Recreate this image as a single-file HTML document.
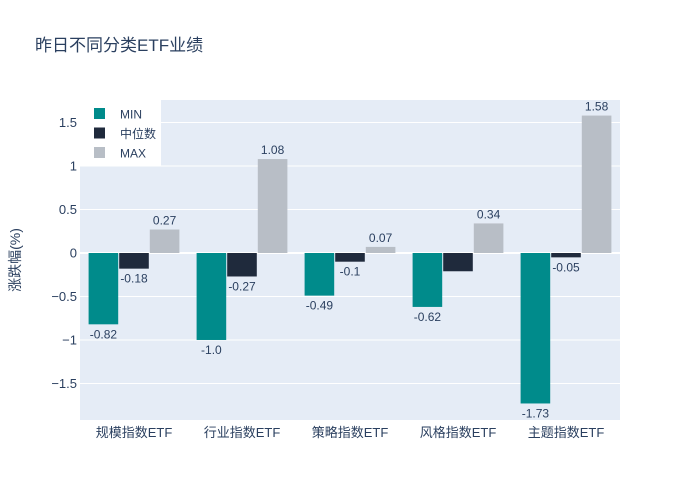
<!DOCTYPE html>
<html><head><meta charset="utf-8">
<style>
body{margin:0;background:#fff;}
svg{display:block;font-family:"Liberation Sans","Noto Sans CJK SC",sans-serif;}
</style></head>
<body>
<svg id="chart" width="700" height="500">
<rect x="0" y="0" width="700" height="500" fill="#fff"/>
<text x="35" y="51" font-size="17" fill="#2a3f5f">昨日不同分类ETF业绩</text>
<rect x="80" y="100" width="540" height="320" fill="#e5ecf6"/>
<g id="grid"></g>
<g id="bars"></g>
<g id="labels"></g>
<g id="yticks"></g>
<g id="xticks"></g>
<text transform="translate(20,260) rotate(-90)" text-anchor="middle" font-size="14" fill="#2a3f5f">涨跌幅(%)</text>
<g id="legend">
<rect x="80" y="100" width="81" height="66" fill="#fff"/>
</g>
</svg>
<script>
const categories=["规模指数ETF","行业指数ETF","策略指数ETF","风格指数ETF","主题指数ETF"];
const seriesNames=["MIN","中位数","MAX"];
const minVals=[-0.82,-1.0,-0.49,-0.62,-1.73];
const medVals=[-0.18,-0.27,-0.1,-0.21,-0.05];
const maxVals=[0.27,1.08,0.07,0.34,1.58];
const medLabels=["-0.18","-0.27","-0.1","","-0.05"];
const minLabels=["-0.82","-1.0","-0.49","-0.62","-1.73"];
const maxLabels=["0.27","1.08","0.07","0.34","1.58"];
const yTicks=[-1.5,-1,-0.5,0,0.5,1,1.5];
const yTickLabels=["−1.5","−1","−0.5","0","0.5","1","1.5"];
const colors=["#008b8b","#1f2a3c","#b8bec6"];
const NS="http://www.w3.org/2000/svg";
const X0=80,W=540,Y0=100,H=320,yMin=-1.92,yMax=1.759;
function y(v){return Y0+(yMax-v)/(yMax-yMin)*H;}
const band=W/categories.length;
function cx(i){return X0+band*(i+0.5);}
const bw=band*0.85/3;
function mk(tag,attrs,parent){const e=document.createElementNS(NS,tag);for(const k in attrs)e.setAttribute(k,attrs[k]);document.getElementById(parent).appendChild(e);return e;}
yTicks.forEach((t,i)=>{
  const g=mk("line",{x1:X0,x2:X0+W,y1:y(t),y2:y(t),stroke:"#fff","stroke-width":t===0?2:1},"grid");
  
  
  const tx=mk("text",{x:X0-3,y:y(t)+4.5,"text-anchor":"end","font-size":"13",fill:"#2a3f5f"},"yticks");
  tx.textContent=yTickLabels[i];
  
  
});
const all=[minVals,medVals,maxVals];
const labs=[minLabels,medLabels,maxLabels];
categories.forEach((c,i)=>{
  const tx=mk("text",{x:cx(i),y:437,"text-anchor":"middle","font-size":"13",fill:"#2a3f5f"},"xticks");
  tx.textContent=c;
  
  
  all.forEach((vals,s)=>{
    const v=vals[i];
    const x=cx(i)-1.5*bw+s*bw;
    const top=Math.min(y(v),y(0)),h=Math.abs(y(v)-y(0));
    const r=mk("rect",{x:x+0.5,y:top,width:bw-1,height:h,fill:colors[s]},"bars");
    
    
    const l=labs[s][i];
    if(l){
      const ly=v>=0?y(v)-5:y(v)+14;
      const t=mk("text",{x:x+bw/2,y:ly,"text-anchor":"middle","font-size":"12",fill:"#2a3f5f"},"labels");
      t.textContent=l;
      
      
    }
  });
});
seriesNames.forEach((n,s)=>{
  const yy=114+s*19.5;
  const r=mk("rect",{x:94,y:yy-6,width:11,height:11,fill:colors[s]},"legend");
  
  
  const t=mk("text",{x:120,y:yy+4.5,"font-size":"12",fill:"#2a3f5f"},"legend");
  t.textContent=n;
  
  
});
</script>
</body></html>
